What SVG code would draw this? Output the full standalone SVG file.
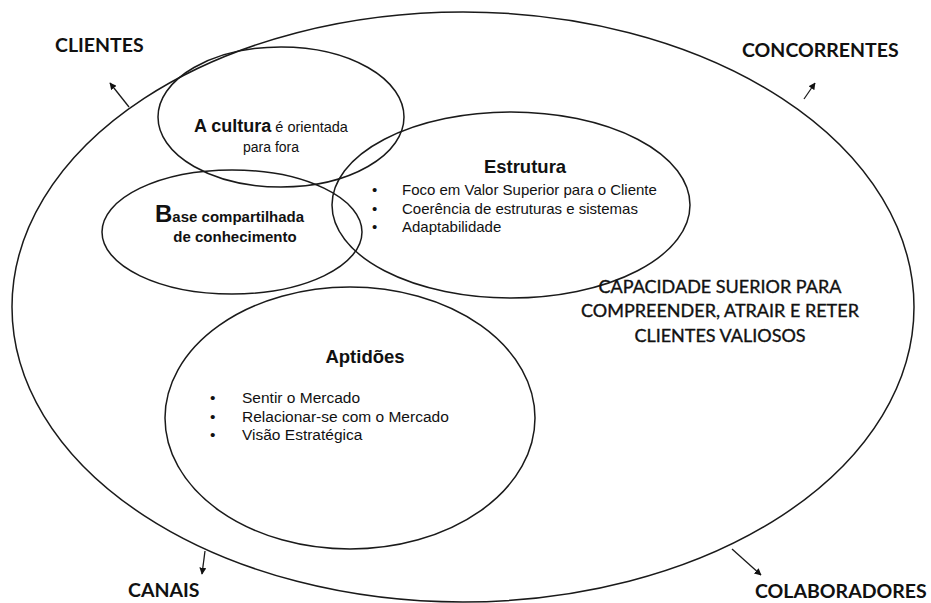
<svg xmlns="http://www.w3.org/2000/svg" width="931" height="603" viewBox="0 0 931 603">
<defs>
<style>
.e{fill:none;stroke:#1a1a1a;stroke-width:1.5}
.c{fill:none;stroke:#1a1a1a;stroke-width:1.3}
.lab{font-family:Lato,"Liberation Sans",sans-serif;font-weight:bold;font-size:19.5px;fill:#111}
.cap{font-family:Lato,"Liberation Sans",sans-serif;font-size:18px;fill:#111;stroke:#111;stroke-width:0.35;text-anchor:middle}
.a{font-family:"Liberation Sans",Arial,sans-serif;fill:#111}
.h{font-weight:bold;font-size:18.5px;text-anchor:middle}
.b{font-size:15px}
</style>
<marker id="ah" viewBox="0 0 10 10" refX="9" refY="5" markerWidth="7" markerHeight="7" markerUnits="userSpaceOnUse" orient="auto">
<path d="M0,0 L10,5 L0,10 z" fill="#111"/>
</marker>
</defs>

<g id="outer"><ellipse class="e" cx="463" cy="307" rx="451" ry="295"/></g>

<g id="cultura">
<ellipse class="e" cx="281" cy="117" rx="123" ry="70"/>
<text class="a" x="194" y="132"><tspan font-weight="bold" font-size="18px">A cultura</tspan><tspan font-size="14.5px"> é orientada</tspan></text>
<text class="a" x="271" y="152" font-size="14px" text-anchor="middle">para fora</text>
</g>

<g id="base">
<ellipse class="e" cx="232" cy="232" rx="130" ry="62"/>
<text class="a" x="155" y="222" font-weight="bold"><tspan font-size="24px">B</tspan><tspan font-size="15px">ase compartilhada</tspan></text>
<text class="a" x="235" y="242" font-weight="bold" font-size="15px" text-anchor="middle">de conhecimento</text>
</g>

<g id="estrutura">
<ellipse class="e" cx="511" cy="205" rx="179" ry="93"/>
<text class="a h" x="525" y="173">Estrutura</text>
<g class="a b">
<text x="372" y="195">•</text><text x="402" y="195">Foco em Valor Superior para o Cliente</text>
<text x="372" y="213.5">•</text><text x="402" y="213.5">Coerência de estruturas e sistemas</text>
<text x="372" y="232">•</text><text x="402" y="232">Adaptabilidade</text>
</g>
</g>

<g id="aptidoes">
<ellipse class="e" cx="350" cy="418" rx="185" ry="131"/>
<text class="a h" x="365" y="363">Aptidões</text>
<g class="a" font-size="15.5px">
<text x="210" y="403">•</text><text x="242" y="403">Sentir o Mercado</text>
<text x="210" y="421.5">•</text><text x="242" y="421.5">Relacionar-se com o Mercado</text>
<text x="210" y="440">•</text><text x="242" y="440">Visão Estratégica</text>
</g>
</g>

<g id="capacidade">
<text class="cap" x="720" y="293">CAPACIDADE SUERIOR PARA</text>
<text class="cap" x="720" y="317">COMPREENDER, ATRAIR E RETER</text>
<text class="cap" x="720" y="342">CLIENTES VALIOSOS</text>
</g>

<g id="clientes"><text class="lab" x="55" y="52">CLIENTES</text></g>
<g id="concorrentes"><text class="lab" x="742" y="57">CONCORRENTES</text></g>
<g id="canais"><text class="lab" x="128" y="597">CANAIS</text></g>
<g id="colaboradores"><text class="lab" x="755" y="598">COLABORADORES</text></g>

<g id="connectors">
<line class="c" x1="129" y1="107" x2="110" y2="83" marker-end="url(#ah)"/>
<line class="c" x1="804" y1="99" x2="815" y2="83" marker-end="url(#ah)"/>
<line class="c" x1="205" y1="551" x2="202" y2="574" marker-end="url(#ah)"/>
<line class="c" x1="732" y1="549" x2="761" y2="575" marker-end="url(#ah)"/>
</g>
</svg>
